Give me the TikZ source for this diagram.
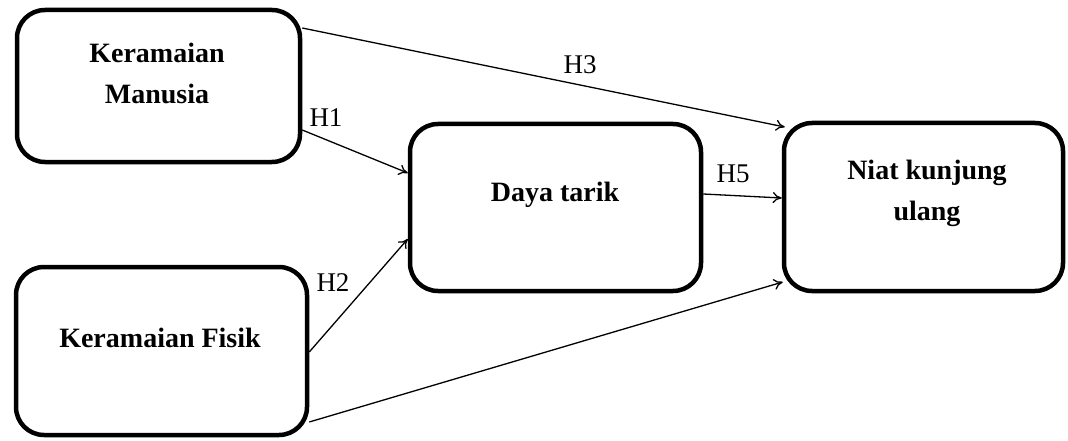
\documentclass[tikz,border=0pt]{standalone}
\usepackage{fontspec}
\setmainfont{Liberation Serif}
\usetikzlibrary{arrows.meta,calc}
\begin{document}
\begin{tikzpicture}[x=1pt,y=-1pt,
  box/.style={draw, line width=4.5pt, rounded corners=28pt, inner sep=0pt},
  boxtext/.style={align=center, font=\fontsize{28}{41}\selectfont\bfseries, inner sep=0pt},
  hlabel/.style={font=\fontsize{27}{30}\selectfont, inner sep=0pt},
  arr/.style={line width=1.3pt, -{To[length=9pt,width=11pt]}}]
\useasboundingbox (0,0) rectangle (1068,441);
% boxes
\node[box, minimum width=283pt, minimum height=152pt] (A) at (158.5,86) {};
\node[box, minimum width=291pt, minimum height=168pt] (B) at (161.5,351) {};
\node[box, minimum width=291pt, minimum height=167pt] (C) at (555.5,207.5) {};
\node[box, minimum width=279pt, minimum height=168pt] (D) at (923.5,207) {};
% texts
\node[boxtext] (tA) at (157,73.5) {Keramaian\\Manusia};
\node[boxtext] (tB) at (160,338) {Keramaian Fisik};
\node[boxtext] (tC) at (555,195) {Daya tarik};
\node[boxtext] (tD) at (927,193) {Niat kunjung\\ulang};
% connectors
\draw[arr] ([yshift=58pt]A.east) -- ([xshift=3pt,yshift=80pt]D.west);
\draw[arr] ([yshift=-44pt]A.east) -- ([yshift=34.5pt]C.west);
\draw[arr] ([yshift=-1pt]B.east) -- ([yshift=-31.5pt]C.west);
\draw[arr] ([yshift=13.5pt]C.east) -- ([yshift=9pt]D.west);
\draw[arr] ([yshift=-71pt]B.east) -- ([xshift=1pt,yshift=-75pt]D.west);
% labels
\node[hlabel] (h3) at (580,65) {H3};
\node[hlabel] (h1) at (326,118) {H1};
\node[hlabel] (h2) at (333,283) {H2};
\node[hlabel] (h5) at (733,174) {H5};
\end{tikzpicture}
\end{document}
